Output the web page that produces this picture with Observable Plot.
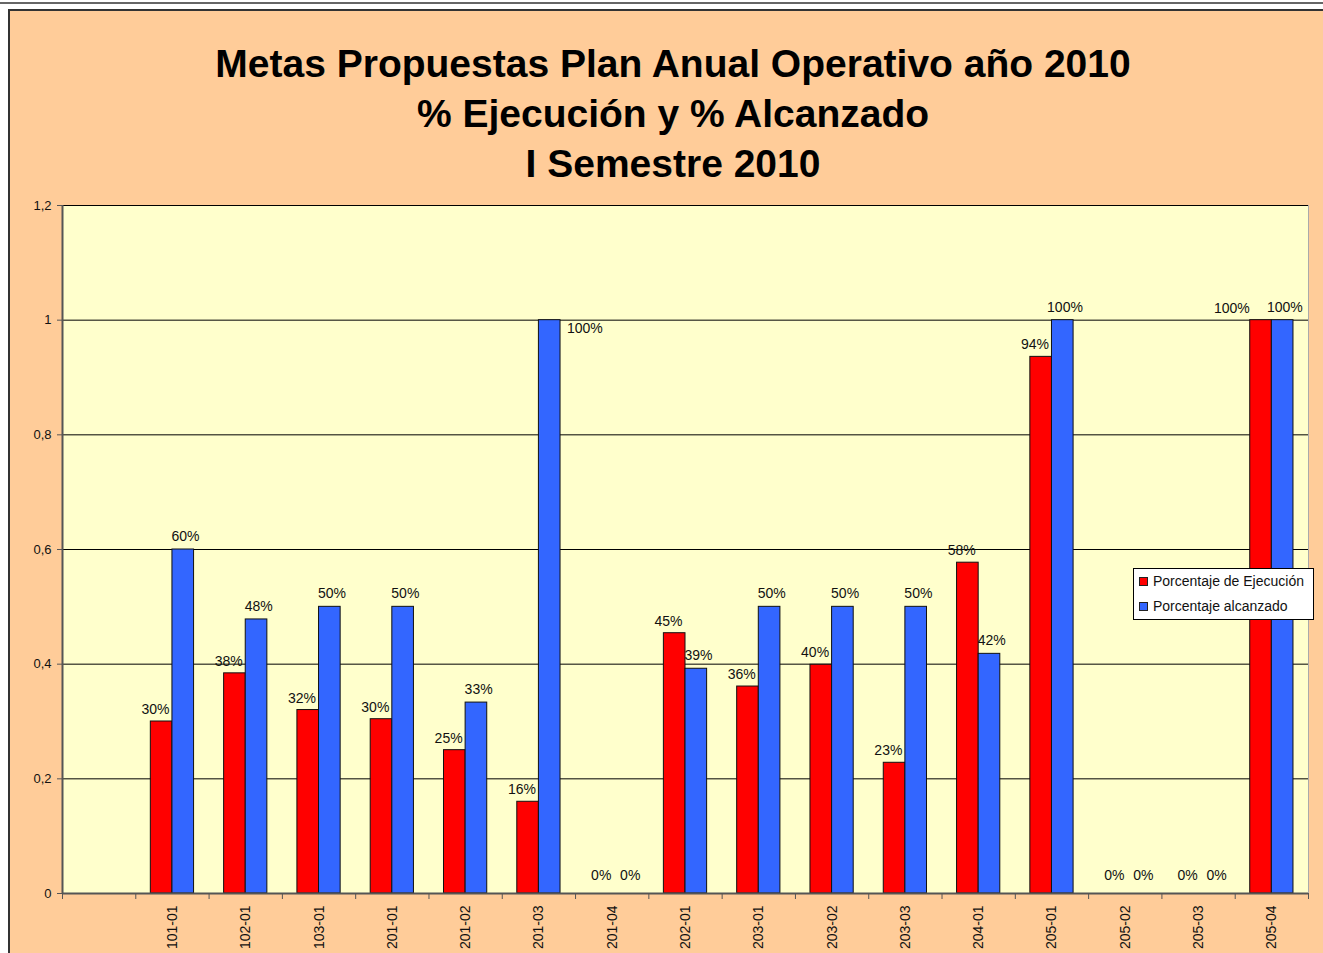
<!DOCTYPE html>
<html>
<head>
<meta charset="utf-8">
<script src="https://cdn.jsdelivr.net/npm/d3@7"></script>
<script src="https://cdn.jsdelivr.net/npm/@observablehq/plot@0.6"></script>
<style>
  html, body { margin: 0; padding: 0; background: #fff; }
  body { width: 1323px; height: 953px; overflow: hidden; position: relative; font-family: "Liberation Sans", Arial, sans-serif; }
  #topline { position: absolute; left: 0; top: 2px; width: 1323px; height: 0; border-top: 2px solid #666; }
  #chartbg { position: absolute; left: 8px; top: 9px; width: 1330px; height: 960px; background: #FFCC99; border-left: 2px solid #333; border-top: 2px solid #333; }
  #title { position: absolute; left: 9px; width: 1328px; top: 39px; text-align: center; font: bold 39px "Liberation Sans", Arial, sans-serif; line-height: 50px; color: #000; }
  #plot { position: absolute; left: 0; top: 0; }
  #legend { position: absolute; left: 1133px; top: 568px; width: 179px; height: 50px; background: #fff; border: 1px solid #000; font: 14px "Liberation Sans", Arial, sans-serif; color: #111; }
  #legend .item { position: absolute; left: 5px; line-height: 16px; white-space: nowrap; }
  #legend .sw { display: inline-block; width: 7px; height: 7px; border: 1px solid #222; margin-right: 5px; vertical-align: 0px; }
</style>
</head>
<body>
<div id="topline"></div>
<div id="chartbg"></div>
<div id="title"></div>
<div id="plot"></div>
<div id="legend"></div>
<script>
const titleLines = ["Metas Propuestas Plan Anual Operativo año 2010", "% Ejecución y % Alcanzado", "I Semestre 2010"];
const categories = ["101-01","102-01","103-01","201-01","201-02","201-03","201-04","202-01","203-01","203-02","203-03","204-01","205-01","205-02","205-03","205-04"];
const ejecucion = [0.30, 0.384, 0.32, 0.304, 0.25, 0.16, 0, 0.454, 0.361, 0.399, 0.228, 0.577, 0.936, 0, 0, 1.0];
const alcanzado = [0.60, 0.478, 0.50, 0.50, 0.333, 1.0, 0, 0.392, 0.50, 0.50, 0.50, 0.418, 1.0, 0, 0, 1.0];
const seriesNames = ["Porcentaje de Ejecución", "Porcentaje alcanzado"];
const seriesColors = ["#FF0000", "#3366FF"];
const yTicks = [0, 0.2, 0.4, 0.6, 0.8, 1, 1.2];

document.getElementById("title").innerHTML = titleLines.map(t => `<div>${t}</div>`).join("");
document.getElementById("legend").innerHTML = seriesNames.map((n, i) =>
  `<div class="item" style="top:${i === 0 ? 4 : 29}px"><span class="sw" style="background:${seriesColors[i]}"></span>${n}</div>`).join("");

const rows = categories.map((c, i) => ({cat: c, ej: ejecucion[i], al: alcanzado[i]}));
const xDomain = ["", ...categories];

const W = 1323, H = 953, mL = 62, mR = 15, mT = 205, mB = 60;
const step = (W - mL - mR) / xDomain.length;
const pad = 0.41;
const half = step * (1 - pad) / 2;
const pct = d3.format(".0%");
const yFmt = d => String(+d.toFixed(1)).replace(".", ",");
const lbl = {fontSize: 14, fill: "#111"};

const chart = Plot.plot({
  width: W, height: H,
  marginLeft: mL, marginRight: mR, marginTop: mT, marginBottom: mB,
  style: {background: "transparent", fontFamily: "'Liberation Sans', Arial, sans-serif", color: "#111"},
  x: {type: "band", domain: xDomain, paddingInner: pad, paddingOuter: pad / 2, round: false, axis: null},
  y: {domain: [0, 1.2], axis: null},
  marks: [
    Plot.frame({fill: "#FFFFCC"}),
    Plot.ruleY(yTicks.slice(1), {stroke: "#000", strokeWidth: 1}),
    Plot.ruleX([xDomain[xDomain.length - 1]], {dx: step / 2, stroke: "#aaa", strokeWidth: 1}),
    Plot.barY(rows, {x: "cat", y: "ej", fill: seriesColors[0], stroke: "#111", strokeWidth: 1, insetRight: half, insetLeft: 0}),
    Plot.barY(rows, {x: "cat", y: "al", fill: seriesColors[1], stroke: "#111", strokeWidth: 1, insetLeft: half, insetRight: 0}),
    Plot.ruleY([0], {stroke: "#555", strokeWidth: 2}),
    Plot.ruleX([""], {dx: -step / 2, stroke: "#555", strokeWidth: 2}),
    Plot.axisY({ticks: yTicks, tickFormat: yFmt, tickSize: 5, tickPadding: 6, fontSize: 13, stroke: "#555", label: null}),
    Plot.axisX({ticks: xDomain, tickSize: 6, tickFormat: () => "", dx: -step / 2, stroke: "#555", label: null}),
    Plot.axisX({ticks: [xDomain[xDomain.length - 1]], tickSize: 6, tickFormat: () => "", dx: step / 2, stroke: "#555", label: null}),
    Plot.axisX({ticks: categories, tickSize: 0, tickPadding: 12, tickRotate: -90, fontSize: 14, tickFormat: d => d, label: null}),
    // labels: execution
    Plot.text(rows.filter(d => d.ej > 0 && d.ej < 0.995), {x: "cat", y: "ej", text: d => pct(d.ej), dx: -17, dy: -12, ...lbl}),
    Plot.text(rows.filter(d => d.ej >= 0.995), {x: "cat", y: "ej", text: d => pct(d.ej), dx: -40, dy: -12, ...lbl}),
    Plot.text(rows.filter(d => d.ej === 0), {x: "cat", y: "ej", text: d => pct(d.ej), dx: -11, dy: -18, ...lbl}),
    // labels: achieved
    Plot.text(rows.filter(d => d.al > 0 && !(d.al >= 0.995 && d.ej < 0.5)), {x: "cat", y: "al", text: d => pct(d.al), dx: 13, dy: -13, ...lbl}),
    Plot.text(rows.filter(d => d.al >= 0.995 && d.ej < 0.5), {x: "cat", y: "al", text: d => pct(d.al), dx: 46, dy: 8, ...lbl}),
    Plot.text(rows.filter(d => d.al === 0), {x: "cat", y: "al", text: d => pct(d.al), dx: 18, dy: -18, ...lbl})
  ]
});
document.getElementById("plot").appendChild(chart);
</script>
</body>
</html>
